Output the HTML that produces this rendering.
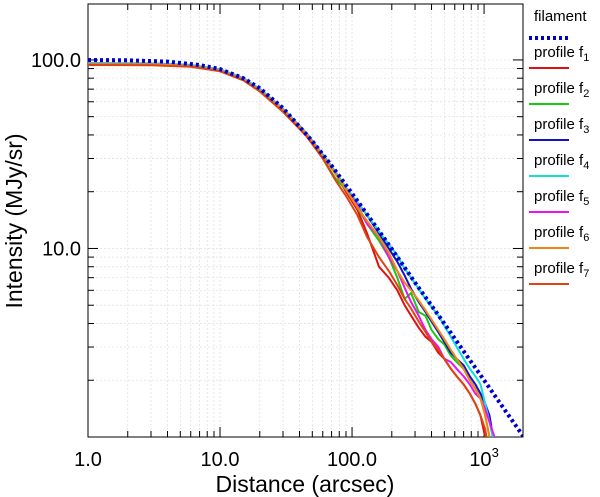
<!DOCTYPE html>
<html><head><meta charset="utf-8"><style>
body{margin:0;background:#fff;}
svg{display:block;font-family:"Liberation Sans",Arial,sans-serif;}
</style></head><body>
<svg id="c" width="600" height="497"></svg>
<script>
const radii=[1,3,6,10,15,20,30,45,60,75,90,110,130,160,190,220,250,280,320,360,400,450,500,560,620,700,780,860,940,1020,1100,1200,1300];
const filamentR=[1,2,4,7,10,15,20,30,50,70,100,150,200,300,500,700,1000,1500,2000];
const filamentI=[99.9,99.5,98,94,89.4,80,70.7,55.5,37.1,27.5,19.6,13.2,9.95,6.6,4.0,2.85,2.0,1.33,1.0];
const profiles=[
 {name:"profile f",sub:"1",color:"#dd1111",v:[95,94.8,93,88,79,69,54,40,31,25,20,16,12,8.0,7.0,6.0,5.0,4.4,3.8,3.4,3.2,2.8,2.6,2.3,2.1,1.9,1.7,1.5,1.3,1.0,0.8,0.8,0.8]},
 {name:"profile f",sub:"2",color:"#11cc11",v:[95,94.8,93,88,79,69,54,40.5,30,23.5,20.5,16.5,13.5,11,9,7.0,5.4,5.8,4.6,4.4,3.7,3.3,3.1,2.7,2.5,2.3,2.0,1.8,1.6,1.3,1.0,0.8,0.8]},
 {name:"profile f",sub:"3",color:"#1111cc",v:[96,95.8,94,89,80,70,55,41,31.5,25.5,21,17.5,15,12,10,8.5,7.2,6.1,5.2,4.6,4.1,3.6,3.2,2.8,2.6,2.4,2.1,1.9,1.7,1.5,1.3,0.9,0.8]},
 {name:"profile f",sub:"4",color:"#11dddd",v:[96,95.8,94,89,80,70,55,41,31.5,25.5,21,17.5,15,12.3,10.5,9.2,7.8,7.0,6.1,5.4,4.9,4.4,3.9,3.4,3.0,2.6,2.3,2.1,1.9,1.5,1.2,0.9,0.8]},
 {name:"profile f",sub:"5",color:"#ee11ee",v:[95,94.8,93,88,79,69,54.5,40.5,31,25,20.5,17,13.5,11.5,9,7.6,6.2,5.2,4.4,3.7,3.3,3.0,2.6,2.5,2.3,2.1,1.9,1.7,1.6,1.4,1.2,1.0,0.8]},
 {name:"profile f",sub:"6",color:"#ee8811",v:[95,94.8,93,88,79,69,54.5,40.5,31,25,20.5,16.5,14,11.5,9.5,7.6,6.6,6.0,5.3,4.7,4.2,3.7,3.3,2.9,2.6,2.3,2.0,1.8,1.6,1.3,1.0,0.8,0.8]},
 {name:"profile f",sub:"7",color:"#dd4411",v:[94,93.8,92,87,78,68,53,39.5,30,23,19,15,11.5,9.0,7.6,6.4,5.4,4.8,4.1,3.6,3.2,2.9,2.6,2.3,2.1,1.9,1.7,1.5,1.3,1.1,0.8,0.8,0.8]}
];
const xTickVals=[1,10,100,1000];
const xTickLabels=["1.0","10.0","100.0","10"];
const yTickVals=[10,100];
const yTickLabels=["10.0","100.0"];

const NS="http://www.w3.org/2000/svg";
const svg=document.getElementById('c');
const L=88,R=523,T=4,B=437;
const xmin=1,xmax=1972,ymin=1,ymax=198;
const X=v=>L+(Math.log10(v)-Math.log10(xmin))/(Math.log10(xmax)-Math.log10(xmin))*(R-L);
const Y=v=>B-(Math.log10(v)-Math.log10(ymin))/(Math.log10(ymax)-Math.log10(ymin))*(B-T);
function mk(t,a,p){const e=document.createElementNS(NS,t);for(const k in a)e.setAttribute(k,a[k]);(p||svg).appendChild(e);return e;}

const clip=mk('clipPath',{id:'pc'});mk('rect',{x:L,y:T,width:R-L,height:B-T},clip);
const grid=mk('g',{});


for(let d=1;d<=1000;d*=10)for(let k=1;k<10;k++){const v=d*k;if(v>xmax)break;const x=X(v);
 mk('line',{x1:x,x2:x,y1:T,y2:B,stroke:'#ddd','stroke-width':0.7,'stroke-dasharray':'2,2'},grid);
 const len=k==1?10:6;mk('line',{x1:x,x2:x,y1:B,y2:B-len,stroke:'#000','stroke-width':1},grid);mk('line',{x1:x,x2:x,y1:T,y2:T+len,stroke:'#000','stroke-width':1},grid);}
for(let d=1;d<=100;d*=10)for(let k=1;k<10;k++){const v=d*k;if(v>ymax)break;const y=Y(v);
 mk('line',{x1:L,x2:R,y1:y,y2:y,stroke:'#ddd','stroke-width':0.7,'stroke-dasharray':'2,2'},grid);
 const len=k==1?10:6;mk('line',{x1:L,x2:L+len,y1:y,y2:y,stroke:'#000','stroke-width':1},grid);mk('line',{x1:R,x2:R-len,y1:y,y2:y,stroke:'#000','stroke-width':1},grid);}
const fr=mk('rect',{x:L,y:T,width:R-L,height:B-T,fill:'none',stroke:'#000','stroke-width':1});



const series=mk('g',{'clip-path':'url(#pc)'});
profiles.forEach((p,i)=>{
 const d=radii.map((r,j)=>(j?'L':'M')+X(r).toFixed(1)+','+Y(p.v[j]).toFixed(1)).join('');
 const pa=mk('path',{d:d,fill:'none',stroke:p.color,'stroke-width':2},series);
 
 
});
const fd=filamentR.map((r,j)=>(j?'L':'M')+X(r).toFixed(1)+','+Y(filamentI[j]).toFixed(1)).join('');
const fl=mk('path',{d:fd,fill:'none',stroke:'#0000cc','stroke-width':4,'stroke-dasharray':'3,3'},series);



xTickVals.forEach((v,i)=>{const t=mk('text',{x:X(v),y:466,'font-size':20,'text-anchor':'middle'});t.textContent=xTickLabels[i];
 if(v===1000){const s=mk('tspan',{dy:-9,'font-size':13},t);s.textContent='3';}
 
 });
yTickVals.forEach((v,i)=>{const t=mk('text',{x:81,y:Y(v)+7,'font-size':20,'text-anchor':'end'});t.textContent=yTickLabels[i];
 
 });
const xt=mk('text',{x:305,y:492,'font-size':23,'text-anchor':'middle'});xt.textContent='Distance (arcsec)';


const yt=mk('text',{x:0,y:0,'font-size':23,'text-anchor':'middle',transform:'translate(22,221) rotate(-90)'});yt.textContent='Intensity (MJy/sr)';



const lg=mk('g',{});


const ft=mk('text',{x:534,y:21,'font-size':15},lg);ft.textContent='filament';


mk('line',{x1:529,x2:571,y1:38,y2:38,stroke:'#0000cc','stroke-width':4,'stroke-dasharray':'3,3'},lg);
profiles.forEach((p,i)=>{const y0=57+i*36;
 const t=mk('text',{x:534,y:y0,'font-size':15},lg);t.textContent=p.name;
 const s=mk('tspan',{dy:4,'font-size':11},t);s.textContent=p.sub;
 
 
 mk('line',{x1:529,x2:569,y1:y0+11,y2:y0+11,stroke:p.color,'stroke-width':2},lg);});
</script>
</body></html>
